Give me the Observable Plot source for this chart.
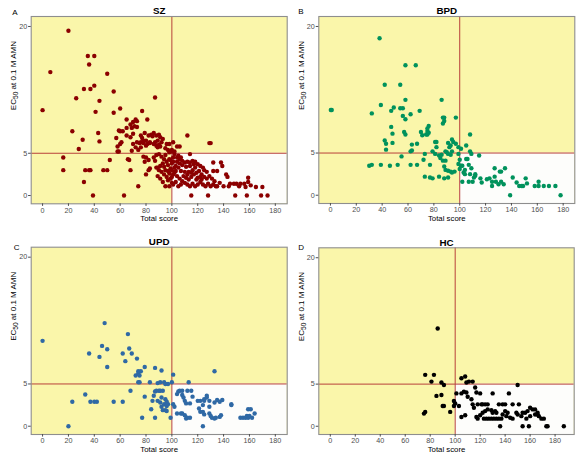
<!DOCTYPE html>
<html><head><meta charset="utf-8">
<script src="https://cdn.jsdelivr.net/npm/d3@7"></script>
<script src="https://cdn.jsdelivr.net/npm/@observablehq/plot@0.6"></script>
<style>
body{margin:0;background:#fff;}
#wrap{position:relative;width:583px;height:465px;}
#wrap svg{position:absolute;}
</style></head><body><div id="wrap"></div>
<script>
const panelNames = ["SZ", "BPD", "UPD", "HC"];
const panelLetters = ["A", "B", "C", "D"];
const pointColors = ["#8b0000", "#00925c", "#2f69a5", "#000000"];
const xTicks = [0, 20, 40, 60, 80, 100, 120, 140, 160, 180];
const yTicks = [0, 5, 20];
const xLabel = "Total score";
const yLabel = "EC50 at 0.1 M AMN";
const cutScore = 100;
const cutEC50 = 5;

// [Total score, EC50]
const szData = [
[20,19.5],[6,14.6],[0,10.1],[35,16.5],[40,16.5],[36,15.5],[50,14.4],[32,12.6],[37,12.6],[40,13],[26,11.5],[44,11.2],[55,12.3],[60,10.3],[55,9.8],[41,9.9],[87,11.6],[77,10.0],[81,9.0],[65,9.0],[72,9.0],[70,8.7],[68,8.4],[71,8.2],[73,8.1],[73,8.8],[65,8.0],[69,8.0],[23,7.6],[43,7.4],[59,7.7],[60,7.6],[62,7.6],[57,6.8],[44,6.4],[31,6.6],[28,5.5],[61,6.3],[60,6.1],[58,5.8],[65,7.1],[68,6.9],[70,7.3],
[76,7.1],[77,6.8],[75,6.2],[76,5.7],[80,6.5],[81,6.1],[82,7.1],[78,6.5],[79,7.4],[80,5.9],[83,6.3],[84,7.2],[85,7.0],[76,6.3],[78,6.2],[83,6.2],
[70,6.1],[72,5.7],[73,6.3],[69,5.3],[74,5.4],[58,5.2],[59,5.2],
[16,4.5],[16,3.0],[33,3.0],[36,3.0],[37,3.0],[47,3.0],[50,3.0],[52,4.2],[32,1.6],[39,0],[63,0],[68,3.0],[74,1.1],[80,2.5],[66,4.3],[67,4.2],[78,4.6],[80,4.5],[82,4.2],[79,4.0],[83,3.2],[82,3.0],[86,4.5],[87,4.1],[88,3.3],[89,3.3],
[86,7.4],[88,7.1],[90,7.2],[91,6.9],[93,6.7],[92,6.3],[89,6.5],[87,6.3],[86,6.1],[88,5.9],[91,5.8],[89,5.7],[90,6.0],
[96,6.1],[98,6.1],[101,6.3],[104,5.8],[106,5.8],[100,5.4],[98,5.1],[97,5.4],[95,5.6],[102,5.2],[100,5.2],
[102,4.9],[104,4.5],[105,4.7],[107,4.5],[101,4.5],[98,4.3],[114,4.9],
[88,4.8],[90,4.9],[92,4.6],[94,4.3],[95,4.8],[96,4.0],[97,3.6],[93,3.8],[91,3.5],[90,3.0],[92,2.8],[94,2.5],[96,2.2],[98,2.6],[99,3.2],[100,3.8],[95,3.0],[97,1.8],[93,1.6],[95,1.1],[98,1.1],[91,2.0],[89,2.3],[100,1.5],[99,2.0],[97,2.9],[94,3.4],[100,3.0],[99,4.2],
[104,4.0],[106,3.8],[108,4.1],[110,3.9],[112,4.0],[114,3.9],[116,4.1],[118,4.0],[120,3.7],[122,3.5],[124,3.3],[118,3.3],[116,3.0],[113,2.8],[110,2.8],[107,2.9],[105,3.3],[103,3.5],[102,2.7],[104,2.3],[106,2.0],[108,1.7],[110,1.5],[112,1.3],[103,1.6],[101,1.3],[105,1.1],[107,1.3],[109,2.3],[111,2.1],[113,1.9],[115,2.2],[117,2.5],[119,2.7],[121,2.9],[123,2.5],[125,2.2],[127,2.0],[129,2.3],[131,2.0],[128,1.4],[126,1.1],[124,1.3],[122,1.6],[120,1.3],[118,1.1],[116,1.4],[114,1.1],[130,1.1],[132,1.3],[134,1.1],[133,1.7],[135,1.1],[120,2.1],[122,2.2],[114,3.5],[111,3.4],[117,3.7],[125,3.0],[127,2.8],[123,1.9],[119,1.9],[115,2.7],[112,2.5],[108,3.6],[106,4.3],
[101,4.0],[102,3.3],[103,2.9],[101,2.5],[100,2.2],
[112,7.1],[129,6.2],[130,6.2],
[115,0],[128,0],[149,0],[158,0],[169,0],[174,0],
[132,3.9],[138,3.9],[139,3.5],[132,2.9],[135,2.9],[142,2.5],[143,2.2],[145,1.4],[148,1.4],[150,1.4],[153,1.4],[156,1.4],[157,1.0],[159,1.6],[161,1.2],[159,2.1],[165,1.0],[170,1.0],[137,1.5],[140,1.1],[144,1.1],[152,1.1]
];
const bpdData = [
[38,18.6],[58,15.4],[66,15.4],[54,13.1],[42,13.1],[58,11.3],[86,11.3],[0.3,10.1],[1,10.1],[32,9.7],[39,10.7],[47,10.0],[49,10.4],[54,10.3],[56,10.3],[56,9.4],[58,9.0],[69,10.0],[62,9.6],[47,8.1],[48,7.3],[57,7.5],[58,7.2],[42,6.5],[43,6.1],[43,5.4],[48,6.2],[63,6.0],[67,6.1],[63,5.3],[62,5.2],[55,4.6],[30,3.5],[32,3.6],[39,3.6],[46,3.5],[52,3.6],[62,3.6],[67,3.6],[73,4.9],[72,4.2],[73,2.2],[77,3.6],[77,2.1],[79,2.0],
[70,7.5],[71,7.1],[75,7.6],[75,7.2],[76,8.2],[76,7.4],[75,7.9],[74,7.2],
[79,5.2],[81,6.3],[82,6.3],[82,5.7],[81,4.9],
[87,4.1],[89,4.1],[84,4.7],[85,4.4],[86,4.8],
[87,8.5],[88,8.8],[87,9.2],[88,9.2],[97,9.2],
[91,6.2],[92,5.7],[93,5.9],[94,5.2],[94,6.6],[95,6.3],[97,6.1],
[89,5.2],[90,5.1],[91,4.9],[93,4.8],
[88,3.4],[89,3.0],[91,2.9],[93,2.8],[94,2.7],[96,2.8],
[84,2.2],[88,2.0],[91,2.1],
[99,5.7],[101,5.5],[100,4.2],[99,3.7],[101,3.5],[100,3.1],[99,4.9],
[105,5.9],[108,5.2],[108,7.2],[109,4.9],[115,4.7],
[102,3.5],[104,3.0],[103,2.7],[104,2.5],
[102,1.6],[107,1.6],[110,1.6],
[105,4.3],[106,4.3],[107,3.6],[109,3.2],
[108,2.5],[111,2.1],[112,2.3],[112,2.5],
[116,2.0],[117,1.5],[121,1.9],[123,2.0],[125,1.6],[127,3.2],[127,2.2],[128,1.6],[131,2.8],[132,2.8],[125,1.1],[135,3.2],[130,1.3],[132,1.6],[134,1.3],[139,0],[141,2.1],[144,1.5],[146,1.1],[148,1.1],[149,1.1],[151,2.0],[152,1.4],[161,1.6],[158,1.1],[161,1.1],[165,1.1],[169,1.1],[174,1.1],[178,0]
];
const updData = [
[0,10.1],[48,12.2],[66,10.9],[67,9.2],[46,9.5],[50,9.1],[62,8.6],[69,8.6],[36,8.6],[44,8.2],[64,7.7],[73,8.0],[50,7.0],[79,7.0],[87,6.9],[92,6.6],
[72,6.0],[74,6.2],[75,6.0],[76,6.5],[74,6.5],[133,6.5],
[74,5.2],[75,5.2],[83,5.2],[89,5.1],[91,5.2],[94,5.2],[95,5.0],[97,5.0],[101,6.1],[100,5.2],[113,5.2],
[33,3.75],[23,2.9],[37,2.9],[40,2.9],[42,2.9],[55,2.9],[62,2.9],[68,4.2],[79,3.5],[77,1.0],[87,1.0],[99,1.0],[20,0],[84,2.0],
[85,3.0],[86,3.6],[87,4.1],[88,4.2],[90,4.2],[91,4.2],[93,4.2],
[89,3.0],[91,2.8],[92,3.4],[92,2.3],[94,2.6],[95,3.2],[96,2.9],[96,2.4],[97,2.6],
[93,1.9],[95,1.9],[96,1.8],
[101,2.6],[102,2.3],[104,3.8],[105,4.1],[106,4.2],[108,4.2],[108,3.7],[109,3.4],[110,3.0],[111,2.7],[112,4.2],[115,4.2],[116,3.5],
[104,1.5],[107,1.5],[108,1.5],[110,1.3],[111,0.9],[112,1.0],[114,1.0],[114,2.7],
[120,3.0],[122,3.0],[124,2.5],[125,3.0],[125,3.2],[127,3.6],[127,3.4],[129,3.0],
[121,2.1],[122,1.7],[124,1.7],[125,1.4],[124,0],
[129,2.3],[129,1.5],[130,1.2],[131,1.0],[133,0.9],[134,1.0],[137,1.1],[138,1.3],
[133,2.8],[135,3.1],[137,2.9],[139,3.1],[146,2.6],[146,2.5],
[153,1.0],[155,1.0],[157,1.0],[158,1.2],[159,1.0],[160,1.2],[159,2.0],[161,2.0],[164,1.5],[162,1.0]
];
const hcData = [
[86,11.6],[76,6.1],[83,6.1],[81,5.3],[89,5.2],[91,4.9],[85,3.6],[89,3.7],[90,2.4],[91,2.4],[75,1.5],[76,1.7],[96,1.7],[99,2.4],[99,3.0],[100,2.7],[101,3.9],[103,2.4],
[105,5.7],[108,5.9],[109,5.2],[111,5.3],[114,5.3],[105,3.9],[107,4.1],[109,4.0],[105,1.1],[108,1.3],[110,3.5],[113,3.2],[114,2.6],[115,2.2],[116,4.6],[117,4.0],[120,3.9],[117,1.1],[118,0.9],[120,1.3],
[118,2.6],[121,2.6],[122,2.6],[124,2.6],[126,2.6],[122,1.6],[124,1.8],[126,2.0],[129,1.9],[130,1.6],[132,1.8],[133,1.6],[130,3.9],
[123,0.9],[125,0.9],[127,0.9],[129,0.9],[131,0.9],[133,0.9],[135,0.9],[137,0.9],[136,0],
[135,2.6],[138,2.6],[140,2.6],[143,3.9],[150,4.9],
[146,2.6],[149,1.6],[150,1.4],[153,1.2],[154,1.6],[151,2.6],
[154,0],[159,0],
[156,1.6],[158,1.8],[160,2.2],[162,2.0],[164,2.0],[166,1.4],[167,1.2],[169,0.9],[171,0.9],[173,0],[174,0],[187,0],
[157,0.9],[160,1.2],[164,1.4],[166,1.6],
[138,1.4],[141,1.2],[144,1.0],[146,0.9],[140,1.8],[142,1.6]
];
const panelData = [szData, bpdData, updData, hcData];

const xDomains = [[-8.8, 189.2], [-9.0, 189.0], [-8.8, 189.2], [-9.2, 195.3]];
const yDomain = [-0.98, 21.18];

const boxes = [
  {left: 0,   top: 0,   width: 291, height: 230, ml: 30.7, mr: 4.3, mt: 16,   mb: 26.7, letterDx: -19,   letterDy: -7},
  {left: 291, top: 0,   width: 292, height: 230, ml: 27.3, mr: 8.7, mt: 16,   mb: 27,   letterDx: -20.5, letterDy: -8},
  {left: 0,   top: 230, width: 291, height: 235, ml: 30.7, mr: 4.3, mt: 16.7, mb: 31,   letterDx: -17.5, letterDy: -3},
  {left: 291, top: 230, width: 292, height: 235, ml: 27.3, mr: 9.3, mt: 17.3, mb: 31,   letterDx: -20.5, letterDy: -3}
];

const font = "'Liberation Sans', Arial, Helvetica, sans-serif";
const wrap = document.getElementById("wrap");

panelNames.forEach((name, i) => {
  const b = boxes[i];
  const xd = xDomains[i];
  const pts = panelData[i].map(([s, e]) => ({score: s, ec50: e}));
  const svg = Plot.plot({
    width: b.width, height: b.height,
    marginLeft: b.ml, marginRight: b.mr, marginTop: b.mt, marginBottom: b.mb,
    style: {fontFamily: font, fontSize: "7.2px", background: "transparent", overflow: "visible"},
    x: {domain: xd},
    y: {domain: yDomain},
    marks: [
      Plot.frame({fill: "#faf6aa", stroke: null}),
      Plot.rect([{x1: cutScore, x2: xd[1], y1: yDomain[0], y2: cutEC50}],
        {x1: "x1", x2: "x2", y1: "y1", y2: "y2", fill: "#fdfdfb"}),
      Plot.ruleX([cutScore], {stroke: "#b8403a", strokeWidth: 1}),
      Plot.ruleY([cutEC50], {stroke: "#b8403a", strokeWidth: 1}),
      Plot.dot(pts, {x: "score", y: "ec50", r: 2.2, fill: pointColors[i], stroke: null}),
      Plot.frame({stroke: "#8e8e8e", strokeWidth: 1.1}),
      Plot.axisX({ticks: xTicks, tickSize: 2.6, tickPadding: 1.2, label: null, color: "#4d4d4d", fontSize: 7.2}),
      Plot.axisY({ticks: yTicks, tickSize: 2.6, tickPadding: 1.4, label: null, color: "#4d4d4d", fontSize: 7.2}),
      Plot.text([name], {frameAnchor: "top", dy: -9.2, fontWeight: "bold", fontSize: 9.8, fill: "#000"}),
      Plot.text([panelLetters[i]], {frameAnchor: "top-left", dx: b.letterDx, dy: b.letterDy, fontSize: 8, fill: "#000"}),
      Plot.text([xLabel], {frameAnchor: "bottom", dy: 17.4, fontSize: 7.8, fill: "#000"}),
      Plot.text([yLabel], {frameAnchor: "left", dx: -17.5, rotate: -90, fontSize: 8, fill: "#000"})
    ]
  });
  svg.style.left = b.left + "px";
  svg.style.top = b.top + "px";
  d3.select(svg).selectAll("text").filter(function () { return this.textContent === yLabel; })
    .each(function () {
      const t = d3.select(this);
      t.text(null);
      t.append("tspan").text("EC");
      t.append("tspan").attr("dy", "2.2").attr("font-size", "6.6px").text("50");
      t.append("tspan").attr("dy", "-2.2").text(" at 0.1 M AMN");
    });
  wrap.appendChild(svg);
});
</script>
</body></html>
